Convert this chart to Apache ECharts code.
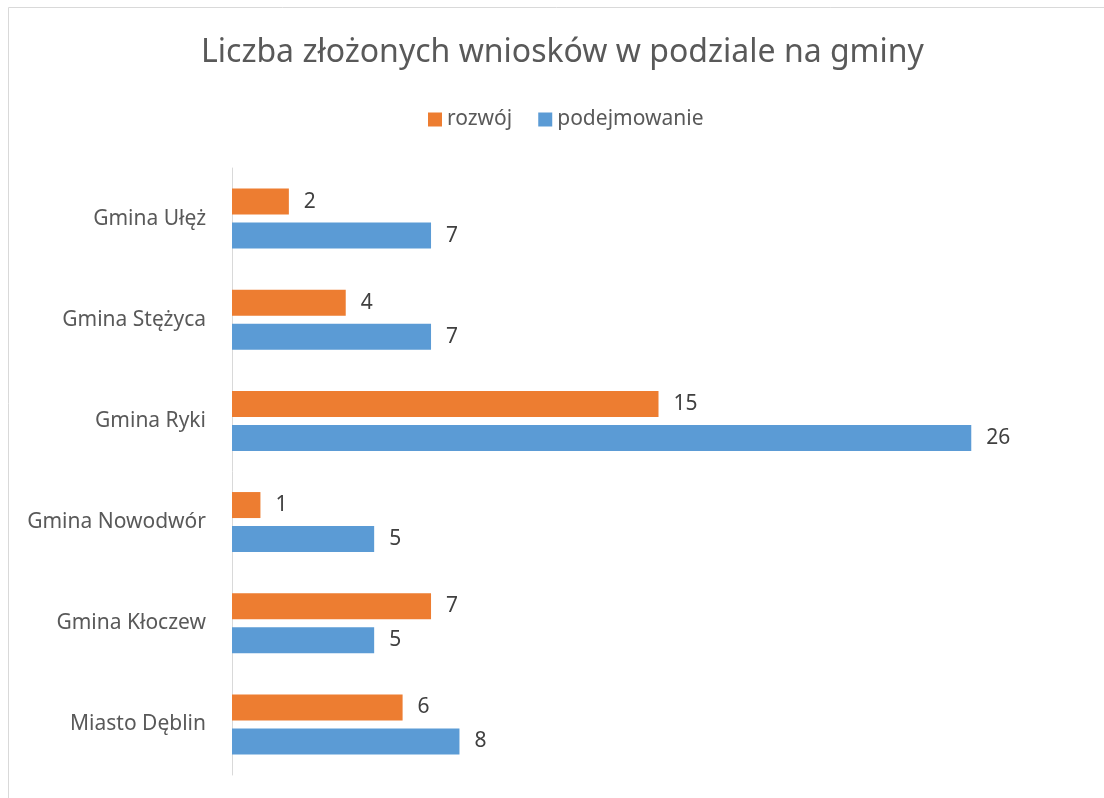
<!DOCTYPE html>
<html>
<head>
<meta charset="utf-8">
<script src="https://cdn.jsdelivr.net/npm/echarts@6/dist/echarts.min.js"></script>
<style>
  html, body { margin: 0; padding: 0; background: #fff; }
  #chart { width: 1104px; height: 798px; }
</style>
</head>
<body>
<div id="chart"></div>
<script>
// gminy, od góry
var gminy = ['Gmina Ułęż', 'Gmina Stężyca', 'Gmina Ryki', 'Gmina Nowodwór', 'Gmina Kłoczew', 'Miasto Dęblin'];
var rozwoj = [2, 4, 15, 1, 7, 6];
var podejmowanie = [7, 7, 26, 5, 5, 8];

var font = '"Noto Sans", "Open Sans", sans-serif';

var myChart = echarts.init(document.getElementById('chart'));

var labelStyle = {
    show: true,
    position: 'right',
    distance: 15,
    color: '#404040',
    fontSize: 21,
    fontFamily: font
};

myChart.setOption({
    animation: false,
    graphic: [{
        type: 'rect',
        shape: { x: 8.5, y: 7.5, width: 1200, height: 900 },
        style: { fill: 'none', stroke: '#d9d9d9', lineWidth: 1 },
        silent: true
    }],
    title: {
        text: 'Liczba złożonych wniosków w podziale na gminy',
        left: 196,
        top: 32,
        textStyle: { color: '#595959', fontSize: 32, fontWeight: 'normal', fontFamily: font }
    },
    legend: {
        top: 104,
        left: 423,
        itemWidth: 14,
        itemHeight: 14,
        itemGap: 26,
        icon: 'rect',
        textStyle: { color: '#595959', fontSize: 21, fontFamily: font }
    },
    grid: { left: 232, right: 19, top: 168, bottom: 23, containLabel: false },
    xAxis: {
        type: 'value',
        min: 0,
        max: 30,
        interval: 5,
        show: false
    },
    yAxis: {
        type: 'category',
        inverse: true,
        data: gminy,
        axisLine: { lineStyle: { color: '#d9d9d9', width: 1 } },
        axisTick: { show: false },
        axisLabel: { color: '#595959', fontSize: 21, margin: 26, fontFamily: font }
    },
    series: [
        {
            name: 'rozwój',
            type: 'bar',
            data: rozwoj,
            barWidth: 26,
            barGap: '31%',
            itemStyle: { color: '#ED7D31' },
            label: labelStyle
        },
        {
            name: 'podejmowanie',
            type: 'bar',
            data: podejmowanie,
            barWidth: 26,
            barGap: '31%',
            itemStyle: { color: '#5B9BD5' },
            label: labelStyle
        }
    ]
});
</script>
</body>
</html>
